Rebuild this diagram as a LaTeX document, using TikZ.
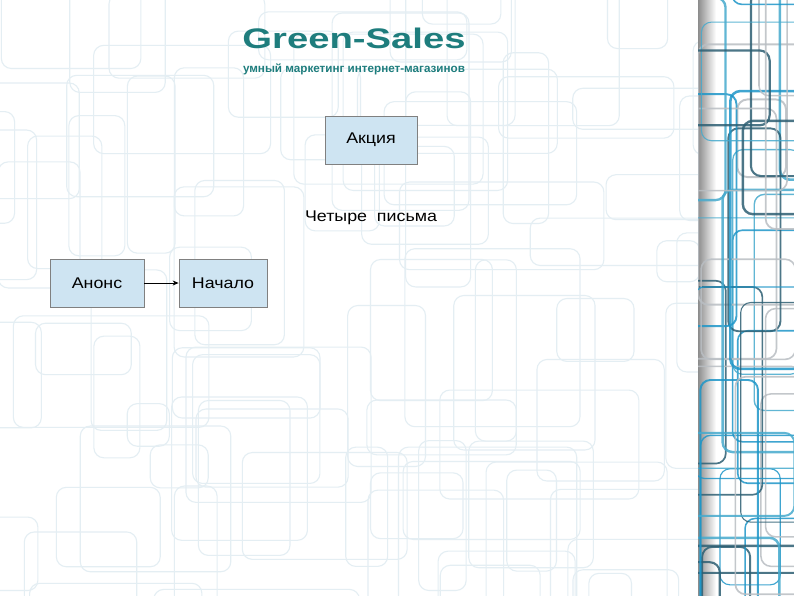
\documentclass[tikz,border=0pt]{standalone}
\usepackage{fontspec}
\setmainfont{Liberation Sans}
\newfontfamily\boxfont[FakeStretch=1.15]{Liberation Sans}
\usepackage{graphicx}
\definecolor{titleteal}{RGB}{30,125,125}
\definecolor{boxfill}{RGB}{206,228,242}
\definecolor{boxline}{RGB}{128,128,128}
\definecolor{faint}{RGB}{228,238,243}
\definecolor{stripc0}{RGB}{70,170,205}
\definecolor{stripc1}{RGB}{45,95,115}
\definecolor{stripc2}{RGB}{185,190,195}
\definecolor{stripc3}{RGB}{30,150,200}
\usetikzlibrary{arrows.meta}
\tikzset{
  box/.style={draw=boxline, fill=boxfill, line width=0.8pt, inner sep=0pt, font=\boxfont\fontsize{15.5}{18}\selectfont},
  label/.style={inner sep=0pt, font=\boxfont\fontsize{15.5}{18}\selectfont},
  conn/.style={-{Stealth[length=6pt,width=5pt]}, line width=0.8pt, black},
  bgrect/.style={rounded corners=10pt, line width=1.1pt}
}
\begin{document}
\begin{tikzpicture}[x=1pt,y=-1pt]
\useasboundingbox (0,0) rectangle (794,595);
\fill[white] (0,0) rectangle (794,595);
% faint background pattern
\begin{scope}
\clip (0,0) rectangle (698,595);
\pgfmathsetseed{11}
\foreach \i in {1,...,90}{
  \pgfmathsetmacro\rx{-60+760*rnd}
  \pgfmathsetmacro\ry{-60+660*rnd}
  \pgfmathsetmacro\rw{40+170*rnd}
  \pgfmathsetmacro\rh{40+170*rnd}
  \draw[bgrect, draw=faint] (\rx,\ry) rectangle ++(\rw,\rh);
}
\end{scope}
% right strip
\begin{scope}
\clip (698,0) rectangle (794,595);
\shade[left color=black!45, right color=white] (698,0) rectangle (716,595);
\pgfmathsetseed{5}
\foreach \i in {1,...,42}{
  \pgfmathsetmacro\rx{630+150*rnd}
  \pgfmathsetmacro\ry{-60+660*rnd}
  \pgfmathsetmacro\rw{40+140*rnd}
  \pgfmathsetmacro\rh{60+220*rnd}
  \pgfmathtruncatemacro\cc{mod(\i,4)}
  \pgfmathsetmacro\lw{1+1.6*rnd}
  \draw[bgrect, line width=\lw pt, draw=stripc\cc, opacity=0.85] (\rx,\ry) rectangle ++(\rw,\rh);
}
\end{scope}
% title
\node[anchor=base, inner sep=0pt, text=titleteal] (title) at (354,48)
  {\resizebox{223pt}{20.5pt}{\bfseries Green-Sales}};
\node[anchor=base, inner sep=0pt, text=titleteal] (subtitle) at (354,72)
  {\resizebox{222pt}{!}{\fontsize{10}{12}\selectfont\bfseries умный маркетинг интернет-магазинов}};
% boxes
\node[box, minimum width=92pt, minimum height=48pt] (akc) at (371,140) {Акция};
\node[label, anchor=base] (four) at (371,221) {Четыре\ \ письма};
\node[box, minimum width=94pt, minimum height=48pt] (anons) at (97,283) {Анонс};
\node[box, minimum width=88pt, minimum height=48pt] (nach) at (223,283) {Начало};
\draw[conn] (anons.east) -- (nach.west);
\end{tikzpicture}
\end{document}
